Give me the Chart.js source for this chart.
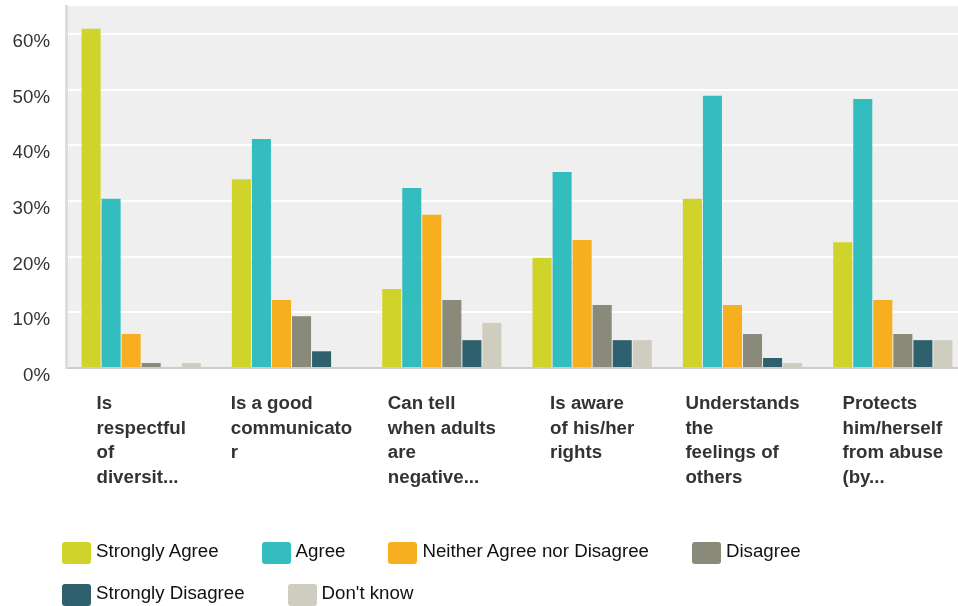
<!DOCTYPE html>
<html>
<head>
<meta charset="utf-8">
<script src="https://cdn.jsdelivr.net/npm/chart.js@4.4.1/dist/chart.umd.min.js"></script>
<style>
  html, body { margin: 0; padding: 0; background: #ffffff; }
  #wrap { position: relative; width: 958px; height: 606px; overflow: hidden; }
  #c { position: absolute; left: 0; top: 0; }
  #legend {
    position: absolute; left: 62px; top: 542px; width: 890px;
    display: flex; flex-wrap: wrap; column-gap: 43px; row-gap: 20px;
    font-family: 'Liberation Sans', Arial, sans-serif; font-size: 18.7px; color: #111;
  }
  .item { display: flex; align-items: flex-start; height: 22px; }
  .box { width: 29px; height: 22px; border-radius: 3px; margin-right: 5px; flex: none; }
  .txt { line-height: 22px; white-space: nowrap; margin-top: -2px; }
</style>
</head>
<body>
<div id="wrap">
  <canvas id="c" width="968" height="606"></canvas>
  <div id="legend"></div>
</div>
<script>
// ---- data ----
const categories = [
  ["Is", "respectful", "of", "diversit..."],
  ["Is a good", "communicato", "r"],
  ["Can tell", "when adults", "are", "negative..."],
  ["Is aware", "of his/her", "rights"],
  ["Understands", "the", "feelings of", "others"],
  ["Protects", "him/herself", "from abuse", "(by..."]
];
const seriesNames = ["Strongly Agree", "Agree", "Neither Agree nor Disagree", "Disagree", "Strongly Disagree", "Don't know"];
const stronglyAgree    = [60.9, 33.9, 14.2, 19.8, 30.4, 22.6];
const agree            = [30.4, 41.1, 32.3, 35.2, 48.9, 48.3];
const neither          = [6.1, 12.2, 27.5, 23.0, 11.3, 12.2];
const disagree         = [0.9, 9.3, 12.2, 11.3, 6.1, 6.1];
const stronglyDisagree = [0, 3.0, 5.0, 5.0, 1.8, 5.0];
const dontKnow         = [0.9, 0, 8.1, 5.0, 0.9, 5.0];
const yTickValues = [0, 10, 20, 30, 40, 50, 60];

// ---- styles ----
const seriesColors = ["#d0d42a", "#34bdbf", "#f7ae1f", "#8a8a7a", "#2e606e", "#cfcdc0"];
const seriesData = [stronglyAgree, agree, neither, disagree, stronglyDisagree, dontKnow];
const FONT = "'Liberation Sans', Arial, sans-serif";
Chart.defaults.font.family = FONT;

const plotBackground = {
  id: 'plotBackground',
  beforeDraw(chart) {
    const { ctx, chartArea: a } = chart;
    ctx.save();
    ctx.fillStyle = '#efefef';
    ctx.fillRect(a.left, a.top, a.right - a.left, a.bottom - a.top);
    ctx.restore();
    // left-aligned lines, block centred under each category
    const s = chart.scales.x;
    const items = s.getLabelItems();
    ctx.save();
    items.forEach((it, i) => {
      ctx.font = it.font.string;
      const lines = Array.isArray(it.label) ? it.label : [it.label];
      const w = Math.max(...lines.map(l => ctx.measureText(l).width));
      it.options.textAlign = 'left';
      it.options.translation[0] = s.getPixelForTick(i) - w / 2;
    });
    ctx.restore();
  }
};

const chart = new Chart(document.getElementById('c'), {
  type: 'bar',
  data: {
    labels: categories,
    datasets: seriesNames.map((name, i) => ({
      label: name,
      data: seriesData[i],
      backgroundColor: seriesColors[i],
      borderWidth: 0,
      barPercentage: 0.95,
      categoryPercentage: 0.8
    }))
  },
  options: {
    responsive: false,
    animation: false,
    devicePixelRatio: 1,
    layout: { padding: { top: 6, left: 0, right: 0, bottom: 0 } },
    plugins: {
      legend: { display: false },
      tooltip: { enabled: false }
    },
    scales: {
      x: {
        grid: { display: false },
        border: { display: true, color: '#cccccc', width: 2 },
        ticks: {
          autoSkip: false, maxRotation: 0, minRotation: 0,
          align: 'start',
          padding: 16,
          color: '#333333',
          font: { size: 18.7, weight: 'bold', lineHeight: '24.5px' }
        },
        afterFit(s) { s.height = 238; s.paddingLeft = 0; s.paddingRight = 0; }
      },
      y: {
        min: 0, max: 65,
        grid: { color: '#ffffff', lineWidth: 2, drawTicks: false },
        border: { display: true, color: '#dddddd', width: 3 },
        ticks: {
          stepSize: 10,
          padding: 16,
          labelOffset: 8,
          color: '#333333',
          font: { size: 18.7 },
          callback: v => v + '%'
        },
        afterBuildTicks(s) { s.ticks = yTickValues.map(v => ({ value: v })); },
        afterFit(s) { s.width = 66; s.paddingTop = 0; s.paddingBottom = 0; }
      }
    }
  },
  plugins: [plotBackground]
});

// HTML legend built from the chart's own legend items
const legendEl = document.getElementById('legend');
Chart.defaults.plugins.legend.labels.generateLabels(chart).forEach(item => {
  const d = document.createElement('div');
  d.className = 'item';
  const b = document.createElement('span');
  b.className = 'box';
  b.style.background = item.fillStyle;
  const t = document.createElement('span');
  t.className = 'txt';
  t.textContent = item.text;
  d.appendChild(b); d.appendChild(t);
  legendEl.appendChild(d);
});
</script>
</body>
</html>
